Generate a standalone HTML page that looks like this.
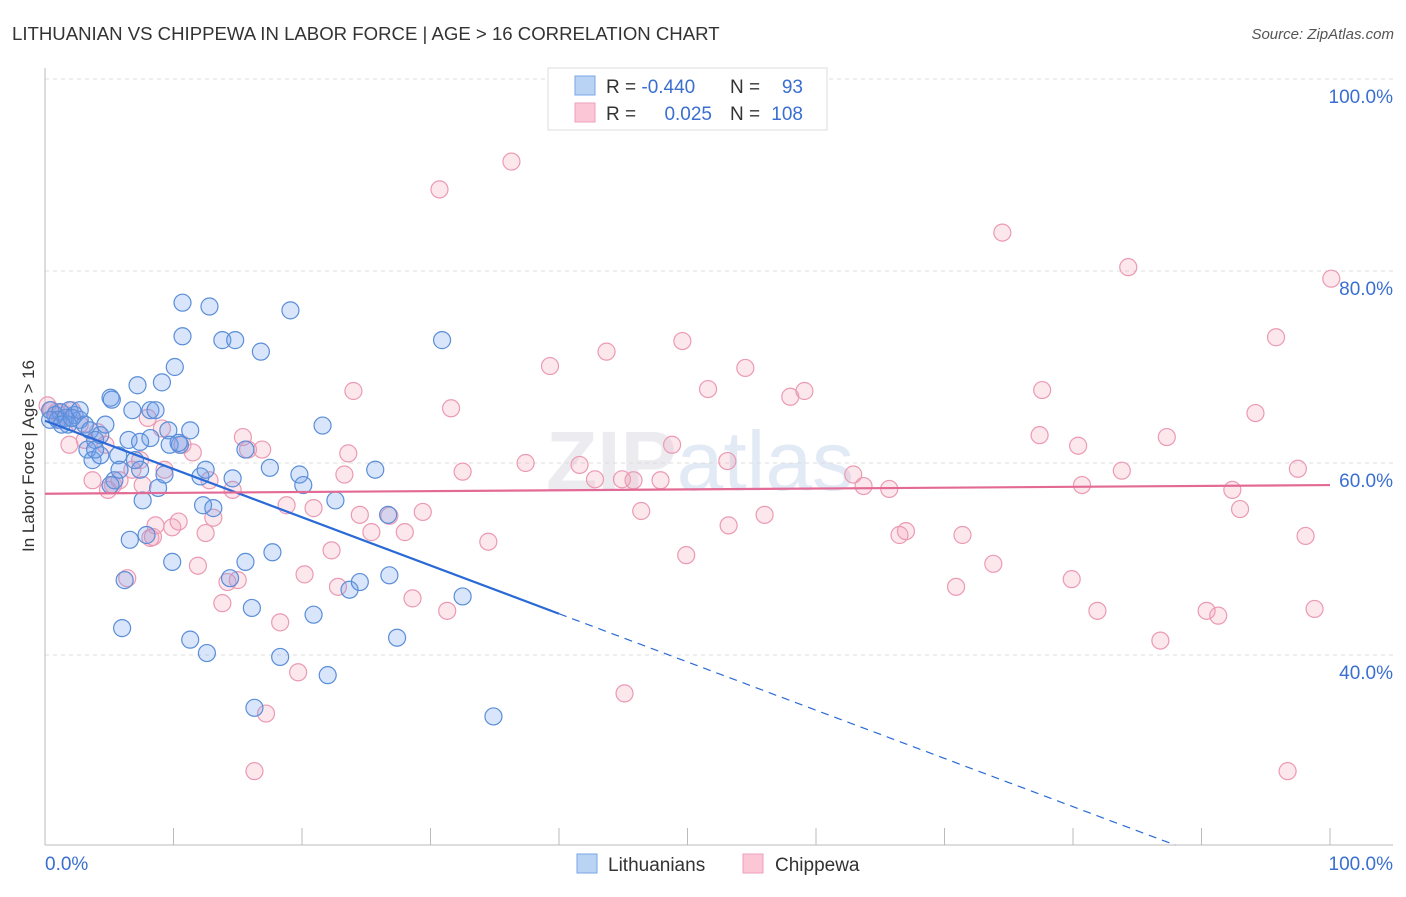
<!DOCTYPE html>
<html><head><meta charset="utf-8"><style>
body{margin:0;background:#fff;font-family:"Liberation Sans",sans-serif;}
svg text{font-family:"Liberation Sans",sans-serif;}
</style></head><body>
<svg id="chart" width="1406" height="892" xmlns="http://www.w3.org/2000/svg">
<text x="12" y="40" font-size="18.6" fill="#333">LITHUANIAN VS CHIPPEWA IN LABOR FORCE | AGE &gt; 16 CORRELATION CHART</text>
<text x="1394" y="39" font-size="15" fill="#555" font-style="italic" text-anchor="end">Source: ZipAtlas.com</text>
<text x="700" y="490" font-size="84" fill="#ececf0" text-anchor="middle" font-weight="bold">ZIP<tspan fill="#e2eaf6" font-weight="normal">atlas</tspan></text>
<g id="grid"></g>
<g id="axes"></g>
<g id="pts"></g>
<g id="trend"></g>
<text transform="translate(34,456) rotate(-90)" font-size="17" fill="#333" text-anchor="middle">In Labor Force | Age &gt; 16</text>
<g>
<rect x="548" y="68" width="279" height="62" fill="#fff" stroke="#ddd"/>
<rect x="575" y="76" width="20" height="19" fill="#b9d3f5" stroke="#7aa6e6"/>
<rect x="575" y="103" width="20" height="19" fill="#fbc6d5" stroke="#eea0b8"/>
<text x="606" y="93" font-size="19" fill="#333">R = <tspan fill="#3a6fd0">-0.440</tspan></text>
<text x="730" y="93" font-size="19" fill="#333">N =</text>
<text x="803" y="93" font-size="19" fill="#3a6fd0" text-anchor="end">93</text>
<text x="606" y="120" font-size="19" fill="#333">R = </text>
<text x="712" y="120" font-size="19" fill="#3a6fd0" text-anchor="end">0.025</text>
<text x="730" y="120" font-size="19" fill="#333">N =</text>
<text x="803" y="120" font-size="19" fill="#3a6fd0" text-anchor="end">108</text>
</g>
<g>
<rect x="577" y="854" width="20" height="19" fill="#b9d3f5" stroke="#7aa6e6"/>
<text x="608" y="871" font-size="19" fill="#333">Lithuanians</text>
<rect x="743" y="854" width="20" height="19" fill="#fbc6d5" stroke="#eea0b8"/>
<text x="775" y="871" font-size="19" fill="#333">Chippewa</text>
</g>
</svg>
<script>
const blueX=[0.4,0.8,1.2,1.6,1.9,2.3,2.7,1.0,1.8,3.1,3.5,3.9,4.3,4.7,3.3,3.7,5.1,5.7,5.4,5.8,6.2,6.0,6.6,6.5,6.8,7.2,7.4,7.6,7.9,8.2,8.2,8.6,8.8,9.1,9.3,9.6,9.7,9.9,10.1,10.5,10.7,10.7,11.3,11.3,12.1,12.3,12.5,12.6,12.8,13.1,13.8,14.4,14.6,14.8,15.6,15.6,16.1,16.3,16.8,17.5,17.7,18.3,19.1,19.8,20.1,20.9,21.6,22.0,22.6,23.7,24.5,25.7,26.7,26.8,27.4,30.9,32.5,34.9,0.4,1.3,2.1,4.3,5.1,7.4,10.4,5.2,3.9,2.7,7.0];
const blueY=[65.5,65.0,65.3,64.7,65.5,65.0,64.5,64.5,64.0,64.0,63.4,62.4,62.9,64.0,61.4,60.3,66.8,60.8,58.2,59.3,47.8,42.8,52.0,62.4,65.5,68.1,59.3,56.1,52.5,65.5,62.6,65.5,57.4,68.4,58.8,63.4,61.9,49.7,70.0,61.9,73.2,76.7,41.6,63.4,58.6,55.6,59.3,40.2,76.3,55.3,72.8,48.0,58.4,72.8,61.4,49.7,44.9,34.5,71.6,59.5,50.7,39.8,75.9,58.8,57.7,44.2,63.9,37.9,56.1,46.8,47.6,59.3,54.6,48.3,41.8,72.8,46.1,33.6,64.5,64.0,64.7,60.8,57.7,62.2,62.1,66.6,61.4,65.5,60.3];
const pinkX=[0.2,0.5,0.9,1.6,2.1,1.2,1.9,2.7,3.1,3.7,4.1,4.7,4.9,5.3,5.8,6.4,6.8,7.4,7.6,8.0,8.2,8.4,8.6,9.1,9.3,9.9,10.4,10.7,11.5,11.9,12.5,12.8,13.1,13.8,14.2,14.6,15.0,15.4,15.8,16.9,17.2,16.3,18.3,18.8,19.7,20.2,20.9,22.3,22.8,23.3,23.6,24.0,24.5,25.4,26.8,28.0,28.6,29.4,30.7,31.3,31.6,32.5,34.5,36.3,37.4,39.3,41.6,42.8,43.7,45.1,44.9,45.8,46.4,47.9,48.8,49.6,49.9,51.6,53.1,53.2,54.5,56.0,58.0,59.1,62.9,63.7,65.7,66.5,67.0,70.9,71.4,73.8,74.5,77.4,77.6,79.9,80.4,80.7,81.9,83.8,84.3,86.8,87.3,90.4,91.3,92.4,93.0,94.2,95.8,96.7,97.5,98.1,98.8,100.1];
const pinkY=[66.0,65.5,65.3,65.0,65.5,64.5,61.9,64.0,62.4,58.2,63.2,61.9,57.2,57.7,58.2,48.0,59.3,60.3,57.7,64.7,52.2,52.3,53.5,63.6,59.3,53.3,53.9,61.9,61.1,49.3,52.7,58.2,54.3,45.4,47.6,57.2,47.8,62.7,61.4,61.4,33.9,27.9,43.4,55.6,38.2,48.4,55.3,50.9,47.1,58.8,61.0,67.5,54.6,52.8,54.5,52.8,45.9,54.9,88.5,44.6,65.7,59.1,51.8,91.4,60.0,70.1,59.8,58.3,71.6,36.0,58.3,58.2,55.0,58.2,61.9,72.7,50.4,67.7,60.2,53.5,69.9,54.6,66.9,67.5,58.8,57.6,57.3,52.5,52.9,47.1,52.5,49.5,84.0,62.9,67.6,47.9,61.8,57.7,44.6,59.2,80.4,41.5,62.7,44.6,44.1,57.2,55.2,65.2,73.1,27.9,59.4,52.4,44.8,79.2];
const yTicks=[100,80,60,40];
const yTickLabels=["100.0%","80.0%","60.0%","40.0%"];
const xTickLabels=["0.0%","100.0%"];
const blueTrend=[64.4,-0.5025,40];
const pinkTrend=[56.8,0.009];

const X0=45,X1=1330,Y0=79,SC=9.6,YMIN=20.2;
const xs=v=>X0+(X1-X0)*v/100;
const ys=v=>Y0+(100-v)*SC;
const NS="http://www.w3.org/2000/svg";
function mk(tag,attrs,parent){const e=document.createElementNS(NS,tag);for(const k in attrs)e.setAttribute(k,attrs[k]);parent.appendChild(e);return e;}
const grid=document.getElementById('grid'),axes=document.getElementById('axes'),pts=document.getElementById('pts'),tr=document.getElementById('trend');
yTicks.forEach((t,i)=>{
 const l=mk('line',{x1:X0,x2:1393,y1:ys(t),y2:ys(t),stroke:'#ddd','stroke-dasharray':'4,4'},grid);
 
 
 const tx=mk('text',{x:1393,y:ys(t)+24,'font-size':19,fill:'#3a6fd0','text-anchor':'end'},grid);
 tx.textContent=yTickLabels[i];
 
 
});
const ax=mk('line',{x1:X0,x2:1393,y1:845,y2:845,stroke:'#bbb'},axes);


const ay=mk('line',{x1:X0,x2:X0,y1:68,y2:845,stroke:'#bbb'},axes);


for(let k=0;k<=10;k++){
 const t=mk('line',{x1:xs(k*10),x2:xs(k*10),y1:828,y2:845,stroke:'#bbb'},axes);
 
 
}
const xl0=mk('text',{x:45,y:870,'font-size':19,fill:'#3a6fd0'},axes);xl0.textContent=xTickLabels[0];


const xl1=mk('text',{x:1393,y:870,'font-size':19,fill:'#3a6fd0','text-anchor':'end'},axes);xl1.textContent=xTickLabels[1];


pinkX.forEach((x,i)=>{
 const c=mk('circle',{cx:xs(x),cy:ys(pinkY[i]),r:8.5,fill:'rgba(245,160,185,0.25)',stroke:'#eb9ab3','stroke-width':1.2},pts);
 
 
});
blueX.forEach((x,i)=>{
 const c=mk('circle',{cx:xs(x),cy:ys(blueY[i]),r:8.5,fill:'rgba(110,160,235,0.27)',stroke:'#5a8ed8','stroke-width':1.2},pts);
 
 
});
const bf=x=>blueTrend[0]+blueTrend[1]*x;
const l1=mk('line',{x1:xs(0),y1:ys(bf(0)),x2:xs(blueTrend[2]),y2:ys(bf(blueTrend[2])),stroke:'#2a6ad6','stroke-width':2.2},tr);


let xe=(YMIN-blueTrend[0])/blueTrend[1];if(xe>100)xe=100;
const l2=mk('line',{x1:xs(blueTrend[2]),y1:ys(bf(blueTrend[2])),x2:xs(xe),y2:ys(bf(xe)),stroke:'#2a6ad6','stroke-width':1.2,'stroke-dasharray':'8,6'},tr);


const pf=x=>pinkTrend[0]+pinkTrend[1]*x;
const l3=mk('line',{x1:xs(0),y1:ys(pf(0)),x2:xs(100),y2:ys(pf(100)),stroke:'#e36a94','stroke-width':2.2},tr);


</script>
</body></html>
